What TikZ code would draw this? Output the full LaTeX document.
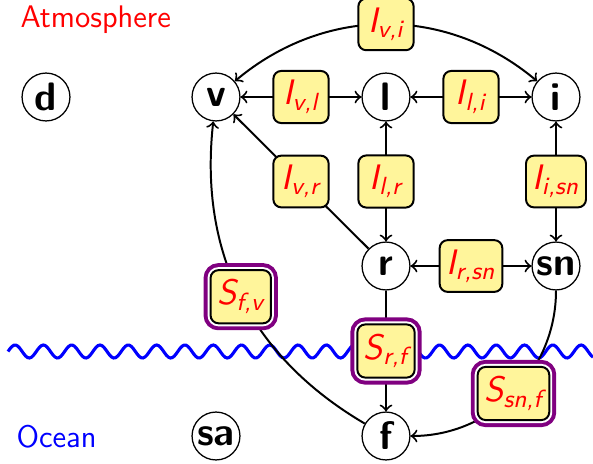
\documentclass[tikz,border=0pt]{standalone}
\usepackage{tikz}
\definecolor{fluxfill}{RGB}{255,245,155}
\definecolor{framecol}{RGB}{128,0,128}
\newcommand{\fx}[2]{#1\textsubscript{#2}}
\tikzset{every picture/.style={x=0.3528pt,y=0.3528pt}}
\tikzset{pool/.style={circle,draw,line width=0.45pt,inner sep=0pt,minimum size=16.9pt,font=\sffamily\bfseries\fontsize{14}{16}\selectfont}}
\tikzset{flux/.style={rectangle,rounded corners=2.8pt,draw,line width=0.7pt,fill=fluxfill,text=red,font=\sffamily\itshape\fontsize{12.5}{14}\selectfont,minimum height=16.9pt,minimum width=19.5pt,inner xsep=2.3pt}}
\tikzset{exch/.style={flux,preaction={draw=framecol,line width=4.9pt},preaction={draw=white,line width=2.1pt}}}
\tikzset{edge/.style={line width=0.7pt}}
\tikzset{zone/.style={font=\sffamily\fontsize{11}{13}\selectfont,anchor=base west,inner sep=0pt}}

\begin{document}
\begin{tikzpicture}
\useasboundingbox (0,0) rectangle (593,463);
% sea surface
\draw [blue,line width=1.1pt] plot [smooth,domain=8:593,samples=300] (\x,{111.5+6.5*sin((\x-8)*12.72)});
\node [zone,red] (atm) at (20,436) {Atmosphere};
\node [zone,blue] (ocn) at (16,16) {Ocean};
% pools
\node [pool] (d) at (46,366) {d};
\node [pool] (v) at (216,366) {v};
\node [pool] (l) at (386,366) {l};
\node [pool] (i) at (556,366) {i};
\node [pool] (r) at (386,197) {r};
\node [pool] (sn) at (556,197) {sn};
\node [pool] (sa) at (216,27) {sa};
\node [pool] (f) at (386,27) {f};
% internal fluxes
\draw [edge,<->] (v) to[bend left=40] node[flux] (Ivi) {\fx{I}{v,i}} (i);
\draw [edge,<->] (v) -- node[flux] (Ivl) {\fx{I}{v,l}} (l);
\draw [edge,<->] (l) -- node[flux] (Ili) {\fx{I}{l,i}} (i);
\draw [edge,->] (r) -- node[flux] (Ivr) {\fx{I}{v,r}} (v);
\draw [edge,<->] (l) -- node[flux] (Ilr) {\fx{I}{l,r}} (r);
\draw [edge,<->] (i) -- node[flux] (Iisn) {\fx{I}{i,sn}} (sn);
\draw [edge,<->] (r) -- node[flux] (Irsn) {\fx{I}{r,sn}} (sn);
% surface exchange
\draw [edge,->] (f) to[bend left=33] node[exch] (Sfv) {\fx{S}{f,v}} (v);
\draw [edge,->] (r) -- node[exch] (Srf) {\fx{S}{r,f}} (f);
\draw [edge,->] (sn) to[out=-90,in=0] node[exch] (Ssnf) {\fx{S}{sn,f}} (f);
\end{tikzpicture}
\end{document}
